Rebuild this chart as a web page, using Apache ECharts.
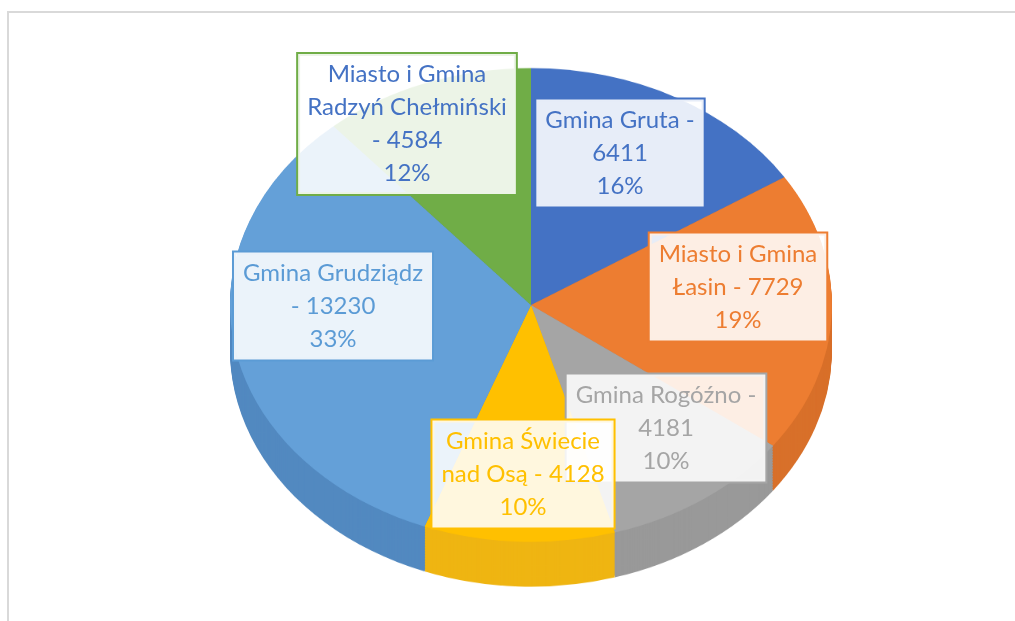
<!DOCTYPE html>
<html>
<head>
<meta charset="utf-8">
<script src="https://cdn.jsdelivr.net/npm/echarts@6/dist/echarts.min.js"></script>
<style>
html,body{margin:0;padding:0;background:#fff;overflow:hidden;width:1015px;height:621px;}
#pie{position:absolute;left:0;top:0;width:1015px;height:800px;transform:scaleY(0.787);transform-origin:0 0;}
#lab{position:absolute;left:0;top:0;width:1015px;height:621px;}
</style>
</head>
<body>
<div id="pie"></div>
<div id="lab"></div>
<script>
// ---- data ----
const categories = ['Gmina Gruta', 'Miasto i Gmina Łasin', 'Gmina Rogóźno', 'Gmina Świecie nad Osą', 'Gmina Grudziądz', 'Miasto i Gmina Radzyń Chełmiński'];
const values = [6411, 7729, 4181, 4128, 13230, 4584];

// ---- style ----
const topColors = ['#4472C4', '#ED7D31', '#A5A5A5', '#FFC000', '#64A0D8', '#70AD47'];
const sideColors = ['#3c68b4', '#d8702a', '#999999', '#efb512', '#5289c0', '#62a03e'];
const borderColors = ['#4472C4', '#ED7D31', '#A5A5A5', '#FFC000', '#5B9BD5', '#70AD47'];
const textColors = ['#4472C4', '#ED7D31', '#A5A5A5', '#FFC000', '#5B9BD5', '#4472C4'];
const wrapWidths = [176, 186, 205, 178, 189, 210];
const labelCenters = [[620, 153], [738, 287], [666, 428], [523, 474], [333, 306], [407, 124]];

const FONT_SIZE = 24, FONT_FAMILY = 'Lato';
const CX = 531, CY = 387.5, R = 301, DEPTH = 57;

const ctx = document.createElement('canvas').getContext('2d');
ctx.font = FONT_SIZE + 'px ' + FONT_FAMILY;
function wrap(text, maxW) {
  const words = text.split(' ');
  const lines = [];
  let cur = '';
  words.forEach(w => {
    const t = cur ? cur + ' ' + w : w;
    if (cur && ctx.measureText(t).width > maxW) { lines.push(cur); cur = w; }
    else cur = t;
  });
  if (cur) lines.push(cur);
  return lines.join('\n');
}

function dataWith(colors) {
  return categories.map((n, i) => ({ name: n, value: values[i], itemStyle: { color: colors[i] } }));
}

const pieSeries = [];
for (let off = DEPTH; off >= 1; off -= 2) {
  pieSeries.push({
    type: 'pie', silent: true, animation: false,
    center: [CX, CY + off], radius: R,
    startAngle: 90, clockwise: true,
    label: { show: false }, labelLine: { show: false },
    itemStyle: { borderWidth: 0 },
    data: dataWith(sideColors)
  });
}
pieSeries.push({
  type: 'pie', silent: true, animation: false,
  center: [CX, CY], radius: R,
  startAngle: 90, clockwise: true,
  label: { show: false }, labelLine: { show: false },
  itemStyle: { borderWidth: 0 },
  data: dataWith(topColors)
});

const pieChart = echarts.init(document.getElementById('pie'), null, { renderer: 'canvas' });
pieChart.setOption({ backgroundColor: '#fff', animation: false, series: pieSeries });

const labChart = echarts.init(document.getElementById('lab'), null, { renderer: 'canvas' });
labChart.setOption({
  animation: false,
  graphic: [{
    type: 'rect', silent: true,
    shape: { x: 8, y: 12, width: 1100, height: 700 },
    style: { fill: 'none', stroke: '#d9d9d9', lineWidth: 2 }
  }],
  series: [{
    type: 'pie', silent: true,
    center: [CX, 282], radius: 250,
    startAngle: 90, clockwise: true,
    percentPrecision: 0,
    avoidLabelOverlap: false,
    itemStyle: { color: 'rgba(0,0,0,0)', borderWidth: 0 },
    labelLine: { show: false },
    label: {
      show: true, position: 'inside',
      formatter: p => wrap(p.name + ' - ' + p.value, wrapWidths[p.dataIndex]) + '\n' + p.percent + '%',
      fontFamily: FONT_FAMILY, fontSize: FONT_SIZE, lineHeight: 33,
      align: 'center', verticalAlign: 'middle',
      backgroundColor: 'rgba(255,255,255,0.87)',
      borderWidth: 2, padding: [4, 9]
    },
    labelLayout: p => ({ x: labelCenters[p.dataIndex][0], y: labelCenters[p.dataIndex][1] }),
    data: categories.map((n, i) => ({
      name: n, value: values[i],
      label: { color: textColors[i], borderColor: borderColors[i] }
    }))
  }]
});
</script>
</body>
</html>
